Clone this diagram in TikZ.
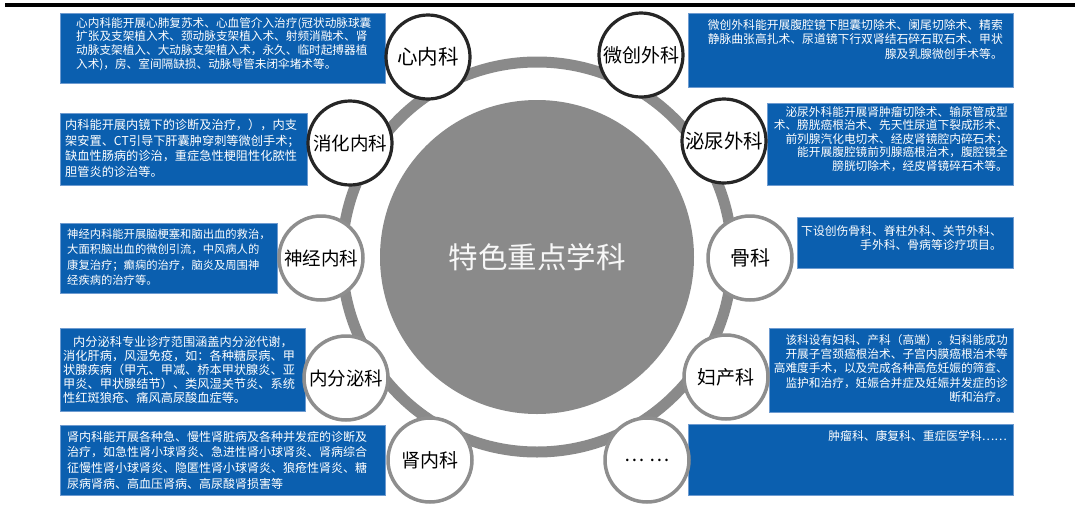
\documentclass[tikz,border=0pt]{standalone}
\usepackage{fontspec}
\setmainfont{Noto Sans CJK SC}
\definecolor{boxblue}{HTML}{0B5FAF}
\definecolor{boxedge}{HTML}{6E9BD0}
\definecolor{ringgray}{HTML}{8A8A8A}
\definecolor{circgray}{HTML}{8E8E8E}
\begin{document}
\begin{tikzpicture}[x=1pt,y=-1pt,
  bluebox/.style={rectangle, fill=boxblue, draw=boxedge, line width=0.8pt, inner sep=0pt, anchor=north west},
  ltext/.style={text=white, align=left, inner sep=0pt, anchor=north west},
  rtext/.style={text=white, align=right, inner sep=0pt, anchor=north east},
  darkcirc/.style={circle, draw=black!85, line width=3.2pt, fill=white, minimum size=84pt, inner sep=0pt, font=\fontsize{19}{19}\selectfont},
  graycirc/.style={darkcirc, draw=circgray, line width=3.5pt},
  ringline/.style={draw=ringgray, line width=11pt},
  hub/.style={circle, fill=ringgray, minimum size=314pt, inner sep=0pt, text=white!94!gray, font=\fontsize{29.5}{29.5}\selectfont}]
\useasboundingbox (0,0) rectangle (1080,507);
% top rule
\coordinate (tl) at (5,5);
\coordinate (tr) at (1075,5);
\draw[line width=4pt] (tl) -- (tr);
% ring and hub
\coordinate (c) at (537,257);
\draw[ringline] (c) circle (195pt);
\node[hub] (hubnode) at (c) {特色重点学科};
% blue boxes
\node[bluebox, minimum width=325pt, minimum height=70pt] (b1) at (60,13) {};
\node[bluebox, minimum width=247pt, minimum height=72pt] (b2) at (60,113) {};
\node[bluebox, minimum width=217pt, minimum height=70pt] (b3) at (60,223) {};
\node[bluebox, minimum width=245pt, minimum height=83pt] (b4) at (60,328) {};
\node[bluebox, minimum width=325pt, minimum height=70pt] (b5) at (60,425) {};
\node[bluebox, minimum width=325pt, minimum height=74pt] (b6) at (688,13) {};
\node[bluebox, minimum width=246pt, minimum height=82pt] (b7) at (767,103) {};
\node[bluebox, minimum width=216pt, minimum height=51pt] (b8) at (797,217) {};
\node[bluebox, minimum width=244pt, minimum height=84pt] (b9) at (769,328) {};
\node[bluebox, minimum width=325pt, minimum height=71pt] (b10) at (688,424) {};
% circles
\node[darkcirc, font=\fontsize{20.5}{20.5}\selectfont] (k1) at (428,57) {心内科};
\node[darkcirc] (k6) at (641,55) {微创外科};
\node[darkcirc, font=\fontsize{18.5}{18.5}\selectfont] (k2) at (350,143) {消化内科};
\node[darkcirc, font=\fontsize{19.5}{19.5}\selectfont] (k7) at (724,141) {泌尿外科};
\node[graycirc, font=\fontsize{18.5}{18.5}\selectfont] (k3) at (321,258) {神经内科};
\node[graycirc, font=\fontsize{20}{20}\selectfont] (k8) at (750,258) {骨科};
\node[graycirc, font=\fontsize{18.5}{18.5}\selectfont] (k4) at (346,378) {内分泌科};
\node[graycirc] (k9) at (726,377) {妇产科};
\node[graycirc, font=\fontsize{19}{19}\selectfont] (k5) at (430,460) {肾内科};
\node[graycirc] (k10) at (647,460) {… …};
% texts
\node[ltext, font=\fontsize{11.65}{13.7}\selectfont] (t1) at (76,17) {心内科能开展心肺复苏术、心血管介入治疗(冠状动脉球囊\\扩张及支架植入术、颈动脉支架植入术、射频消融术、肾\\动脉支架植入、大动脉支架植入术，永久、临时起搏器植\\入术)，房、室间隔缺损、动脉导管未闭伞堵术等。};
\node[ltext, font=\fontsize{12.2}{15.5}\selectfont] (t2) at (65,119) {内科能开展内镜下的诊断及治疗，），内支\\架安置、CT引导下肝囊肿穿刺等微创手术；\\缺血性肠病的诊治，重症急性梗阻性化脓性\\胆管炎的诊治等。};
\node[ltext, font=\fontsize{11.3}{15.2}\selectfont] (t3) at (67,229) {神经内科能开展脑梗塞和脑出血的救治，\\大面积脑出血的微创引流，中风病人的\\康复治疗；癫痫的治疗，脑炎及周围神\\经疾病的治疗等。};
\node[ltext, font=\fontsize{12.2}{14}\selectfont] (t4) at (63,336) {\hspace{10pt}内分泌科专业诊疗范围涵盖内分泌代谢，\\消化肝病，风湿免疫，如：各种糖尿病、甲\\状腺疾病（甲亢、甲减、桥本甲状腺炎、亚\\甲炎、甲状腺结节）、类风湿关节炎、系统\\性红斑狼疮、痛风高尿酸血症等。};
\node[ltext, font=\fontsize{12}{15.6}\selectfont] (t5) at (67,431) {肾内科能开展各种急、慢性肾脏病及各种并发症的诊断及\\治疗，如急性肾小球肾炎、急进性肾小球肾炎、肾病综合\\征慢性肾小球肾炎、隐匿性肾小球肾炎、狼疮性肾炎、糖\\尿病肾病、高血压肾病、高尿酸肾损害等};
\node[rtext, font=\fontsize{11.8}{14.7}\selectfont] (t6) at (1003,19) {微创外科能开展腹腔镜下胆囊切除术、阑尾切除术、精索\\静脉曲张高扎术、尿道镜下行双肾结石碎石取石术、甲状\\腺及乳腺微创手术等。};
\node[rtext, font=\fontsize{11.7}{13.6}\selectfont] (t7) at (1008,106) {泌尿外科能开展肾肿瘤切除术、输尿管成型\\术、膀胱癌根治术、先天性尿道下裂成形术、\\前列腺汽化电切术、经皮肾镜腔内碎石术；\\能开展腹腔镜前列腺癌根治术，腹腔镜全\\膀胱切除术，经皮肾镜碎石术等。};
\node[rtext, font=\fontsize{11.8}{14.7}\selectfont] (t8) at (1002,225) {下设创伤骨科、脊柱外科、关节外科、\\手外科、骨病等诊疗项目。};
\node[rtext, font=\fontsize{11.7}{14.3}\selectfont] (t9) at (1008,334) {该科设有妇科、产科（高端）。妇科能成功\\开展子宫颈癌根治术、子宫内膜癌根治术等\\高难度手术，以及完成各种高危妊娠的筛查、\\监护和治疗，妊娠合并症及妊娠并发症的诊\\断和治疗。};
\node[rtext, font=\fontsize{11.8}{14}\selectfont] (t10) at (1007,430) {肿瘤科、康复科、重症医学科……};
\end{tikzpicture}
\end{document}
